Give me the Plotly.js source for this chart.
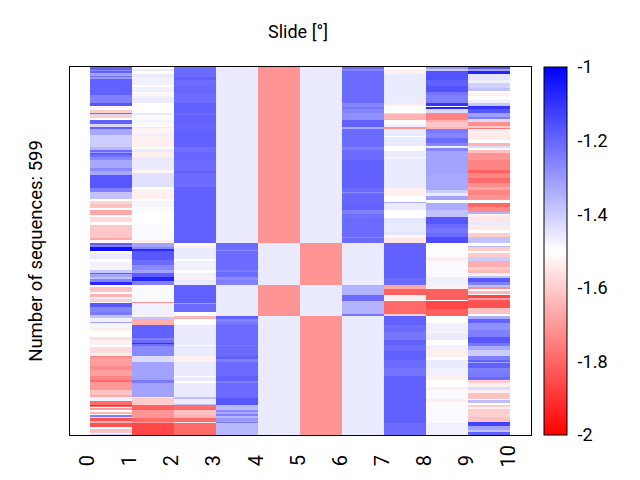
<!DOCTYPE html>
<html><head><meta charset="utf-8">
<script src="https://cdn.plot.ly/plotly-3.0.1.min.js"></script>
<style>html,body{margin:0;padding:0;background:#fff}</style></head><body>
<div id="chart" style="width:640px;height:480px"></div>
<script>
// Each column: flat pairs of band end (row bin from the top, 0..368) and slide value
const col0=[3,-1.19,4,-1.27,6,-1.19,9,-1.32,10,-1.22,12,-1.3,28,-1.19,36,-1.25,39,-1.17,41,-1.52,43,-1.5,46,-1.6,47,-1.22,48,-1.42,51,-1.6,53,-1.5,57,-1.19,60,-1.42,62,-1.19,68,-1.33,80,-1.4,83,-1.36,85,-1.21,86,-1.3,88,-1.18,90,-1.22,93,-1.27,101,-1.33,104,-1.27,108,-1.33,121,-1.17,125,-1.25,132,-1.38,134,-1.5,137,-1.58,141,-1.62,143,-1.5,148,-1.67,150,-1.5,155,-1.57,158,-1.5,171,-1.61,173,-1.67,176,-1.52,178,-1.18,180,-1.25,184,-1.03,186,-1.5,192,-1.46,195,-1.5,198,-1.47,201,-1.53,203,-1.48,206,-1.39,207,-1.19,210,-1.32,212,-1.38,215,-1.26,218,-1.08,220,-1.5,225,-1.62,227,-1.5,230,-1.65,232,-1.46,235,-1.6,236,-1.5,240,-1.17,245,-1.26,248,-1.24,251,-1.38,255,-1.47,256,-1.32,261,-1.48,264,-1.53,270,-1.5,273,-1.56,278,-1.53,280,-1.5,286,-1.57,289,-1.53,291,-1.73,299,-1.69,303,-1.73,309,-1.69,313,-1.74,315,-1.79,323,-1.7,328,-1.62,330,-1.67,334,-1.47,338,-1.79,339,-1.92,340,-1.79,341,-1.5,343,-1.69,345,-1.5,347,-1.65,348,-1.5,350,-1.25,351,-1.6,354,-1.84,356,-1.65,360,-1.84,362,-1.5,366,-1.62,367,-1.5,368,-1.4];
const col1=[2,-1.5,4,-1.46,7,-1.5,10,-1.46,18,-1.47,20,-1.5,25,-1.47,26,-1.5,29,-1.52,31,-1.47,36,-1.46,46,-1.5,48,-1.46,53,-1.49,56,-1.48,60,-1.51,61,-1.46,66,-1.52,69,-1.47,80,-1.53,82,-1.5,85,-1.46,90,-1.53,93,-1.46,103,-1.46,106,-1.52,120,-1.44,123,-1.5,132,-1.53,134,-1.5,140,-1.48,146,-1.49,158,-1.5,173,-1.49,176,-1.53,180,-1.32,182,-1.27,184,-1.08,193,-1.17,198,-1.21,203,-1.27,206,-1.32,210,-1.18,214,-1.07,218,-1.25,235,-1.49,236,-1.71,248,-1.47,250,-1.53,252,-1.38,258,-1.66,271,-1.19,273,-1.25,276,-1.21,277,-1.1,279,-1.21,289,-1.27,295,-1.43,313,-1.32,316,-1.24,330,-1.32,331,-1.46,338,-1.6,343,-1.81,351,-1.71,355,-1.79,356,-1.69,368,-1.86];
const col2=[10,-1.21,13,-1.19,20,-1.21,26,-1.2,36,-1.21,46,-1.19,48,-1.21,56,-1.19,63,-1.2,80,-1.19,85,-1.22,93,-1.2,104,-1.21,106,-1.19,120,-1.21,176,-1.19,178,-1.5,181,-1.53,192,-1.46,194,-1.5,203,-1.47,206,-1.5,210,-1.47,213,-1.53,218,-1.46,236,-1.19,237,-1.3,245,-1.21,249,-1.5,252,-1.65,258,-1.5,278,-1.46,279,-1.5,289,-1.46,295,-1.53,309,-1.46,310,-1.5,314,-1.46,316,-1.5,330,-1.46,332,-1.37,337,-1.46,338,-1.38,343,-1.79,348,-1.62,351,-1.65,355,-1.79,356,-1.53,368,-1.79];
const col3=[176,-1.46,183,-1.21,184,-1.27,203,-1.21,205,-1.24,210,-1.21,213,-1.27,218,-1.25,249,-1.46,252,-1.19,255,-1.26,258,-1.23,278,-1.21,279,-1.23,289,-1.21,292,-1.19,295,-1.25,309,-1.21,314,-1.19,316,-1.25,331,-1.21,338,-1.17,343,-1.36,345,-1.27,347,-1.33,349,-1.25,351,-1.36,355,-1.3,356,-1.25,368,-1.36];
const col4=[176,-1.71,218,-1.46,249,-1.71,368,-1.46];
const col5=[176,-1.46,218,-1.71,249,-1.46,368,-1.71];
const col6=[2,-1.21,4,-1.26,36,-1.21,40,-1.26,42,-1.23,46,-1.26,53,-1.28,60,-1.19,62,-1.33,70,-1.21,80,-1.21,83,-1.25,93,-1.21,121,-1.19,125,-1.21,126,-1.27,128,-1.21,136,-1.2,143,-1.19,147,-1.25,151,-1.22,170,-1.21,171,-1.27,176,-1.21,218,-1.46,228,-1.35,234,-1.21,247,-1.35,249,-1.23,368,-1.46];
const col7=[2,-1.5,7,-1.53,36,-1.46,39,-1.54,43,-1.5,46,-1.5,47,-1.43,53,-1.65,57,-1.5,60,-1.47,62,-1.71,69,-1.46,70,-1.5,79,-1.46,84,-1.5,90,-1.46,91,-1.5,121,-1.46,129,-1.53,135,-1.5,136,-1.34,143,-1.46,151,-1.5,156,-1.45,165,-1.46,168,-1.45,171,-1.52,176,-1.55,211,-1.19,218,-1.21,222,-1.67,228,-1.81,234,-1.53,247,-1.79,249,-1.6,258,-1.19,265,-1.21,273,-1.23,278,-1.19,284,-1.21,293,-1.19,301,-1.21,309,-1.23,356,-1.19,368,-1.21];
const col8=[2,-1.3,4,-1.4,13,-1.16,19,-1.19,25,-1.16,28,-1.23,36,-1.25,39,-1.1,40,-1.5,42,-1.07,46,-1.43,53,-1.74,55,-1.66,60,-1.61,62,-1.65,66,-1.24,71,-1.26,76,-1.21,79,-1.26,81,-1.46,84,-1.26,108,-1.32,111,-1.33,123,-1.33,126,-1.4,129,-1.46,133,-1.32,136,-1.5,143,-1.34,150,-1.38,157,-1.17,161,-1.21,166,-1.23,170,-1.21,176,-1.15,190,-1.5,194,-1.53,210,-1.49,218,-1.47,222,-1.53,233,-1.81,234,-1.5,242,-1.86,249,-1.81,256,-1.5,265,-1.47,266,-1.52,273,-1.46,278,-1.5,283,-1.47,290,-1.53,293,-1.5,301,-1.46,309,-1.47,313,-1.53,320,-1.5,323,-1.53,332,-1.49,335,-1.53,356,-1.49,360,-1.47,368,-1.47];
const col9=[2,-1.17,4,-1.33,7,-1.07,13,-1.45,16,-1.47,21,-1.41,24,-1.38,26,-1.5,29,-1.53,33,-1.5,36,-1.47,39,-1.39,42,-1.1,46,-1.17,50,-1.31,52,-1.25,55,-1.43,59,-1.72,61,-1.6,62,-1.77,66,-1.53,73,-1.54,76,-1.5,79,-1.65,81,-1.43,83,-1.5,86,-1.62,93,-1.71,103,-1.74,106,-1.81,111,-1.74,116,-1.79,120,-1.72,123,-1.67,128,-1.74,133,-1.71,136,-1.5,140,-1.8,145,-1.73,147,-1.35,150,-1.53,155,-1.55,158,-1.46,163,-1.54,166,-1.5,170,-1.6,176,-1.38,179,-1.5,180,-1.36,184,-1.6,186,-1.5,190,-1.6,194,-1.4,200,-1.66,203,-1.6,206,-1.64,209,-1.53,211,-1.38,215,-1.17,218,-1.25,220,-1.37,222,-1.72,224,-1.5,227,-1.64,228,-1.5,231,-1.87,233,-1.69,241,-1.84,247,-1.62,249,-1.5,252,-1.34,256,-1.19,263,-1.28,270,-1.25,276,-1.17,279,-1.23,283,-1.33,289,-1.4,293,-1.25,295,-1.19,296,-1.32,301,-1.19,304,-1.25,310,-1.24,313,-1.21,316,-1.6,320,-1.53,323,-1.43,326,-1.53,332,-1.62,333,-1.5,336,-1.37,338,-1.5,340,-1.6,342,-1.53,345,-1.6,350,-1.59,355,-1.62,359,-1.13,363,-1.32,365,-1.38,368,-1.19];
const columns=[col0,col1,col2,col3,col4,col5,col6,col7,col8,col9];
const xEdges=[0,1,2,3,4,5,6,7,8,9,10];
const xLabels=["0\u00a0\u00a0","1\u00a0\u00a0","2\u00a0\u00a0","3\u00a0\u00a0","4\u00a0\u00a0","5\u00a0\u00a0","6\u00a0\u00a0","7\u00a0\u00a0","8\u00a0\u00a0","9\u00a0\u00a0","10"];
const cbTicks=[-2,-1.8,-1.6,-1.4,-1.2,-1];
const cbLabels=["-2","-1.8","-1.6","-1.4","-1.2","-1"];
const seqCount=599, bins=368;

function expand(pairs){const out=[];for(let i=0;i<pairs.length;i+=2){while(out.length<pairs[i])out.push(pairs[i+1]);}return out;}
const expanded=columns.map(expand);
const z=[];const yEdges=[0];
for(let r=0;r<bins;r++){z.push(expanded.map(c=>c[r]));yEdges.push((r+1)*seqCount/bins);}
const font='Roboto, sans-serif';
Plotly.newPlot('chart',[{type:'heatmap',x:xEdges,y:yEdges,z:z,zmin:-2,zmax:-1,zsmooth:false,hoverongaps:false,
 colorscale:[[0,'#ff0000'],[0.5,'#ffffff'],[1,'#0000ff']],
 colorbar:{x:1.0282,xanchor:'left',y:0.5,yanchor:'middle',len:1,lenmode:'fraction',thickness:23,thicknessmode:'pixels',xpad:0,ypad:0,outlinewidth:1,outlinecolor:'#000',ticks:'outside',ticklen:7,tickcolor:'rgba(0,0,0,0)',tickmode:'array',tickvals:cbTicks,ticktext:cbLabels,tickfont:{family:font,size:18,color:'#000'}}}],
{width:640,height:480,margin:{l:70,r:109,t:67,b:45},paper_bgcolor:'#fff',plot_bgcolor:'#fff',
 title:{text:'Slide [°]',font:{family:font,size:18,color:'#000'},x:0.4656,xanchor:'center',y:0.933,yanchor:'middle'},
 xaxis:{range:[-0.476,10.5],tickmode:'array',tickvals:xEdges,ticktext:xLabels,tickangle:-90,ticks:'',ticklabelshift:-2,ticklabelstandoff:1,showgrid:false,zeroline:false,showline:true,mirror:true,linecolor:'#000',linewidth:1,tickfont:{family:font,size:20,color:'#000'}},
 yaxis:{range:[seqCount,0],showticklabels:false,ticks:'',showgrid:false,zeroline:false,showline:true,mirror:true,linecolor:'#000',linewidth:1,title:{text:'Number of sequences: 599',standoff:21,font:{family:font,size:18.5,color:'#000'}}}
},{displayModeBar:false,staticPlot:true});
</script></body></html>
